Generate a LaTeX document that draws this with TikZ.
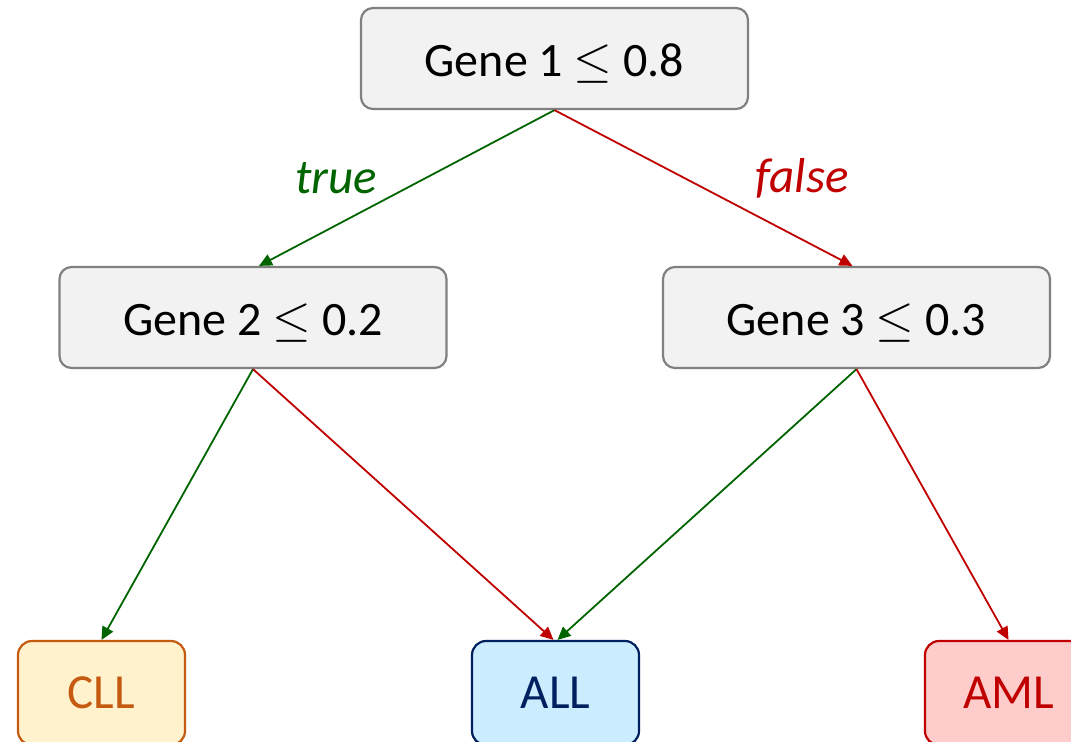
\documentclass[tikz,border=0pt]{standalone}
\usepackage{fontspec}
\setmainfont{Carlito}
\usepackage{xcolor}
\usetikzlibrary{arrows.meta}

\definecolor{boxgray}{RGB}{242,242,242}
\definecolor{linegray}{RGB}{128,128,128}
\definecolor{yesgreen}{RGB}{0,100,0}
\definecolor{nored}{RGB}{192,0,0}
\definecolor{cllfill}{RGB}{255,242,204}
\definecolor{clldraw}{RGB}{197,90,17}
\definecolor{allfill}{RGB}{204,236,255}
\definecolor{alldraw}{RGB}{0,32,96}
\definecolor{amlfill}{RGB}{255,204,204}

\begin{document}
\begin{tikzpicture}[x=0.5pt,y=-0.5pt,
    font=\fontsize{24.5}{29}\selectfont,
    test/.style={draw=linegray,fill=boxgray,line width=1.1pt,rounded corners=6pt,
        minimum width=193.5pt,minimum height=50.5pt,inner sep=0pt,
        font=\fontsize{24}{29}\selectfont,text height=18pt,text depth=0pt},
    leaf/.style={line width=1.1pt,rounded corners=7pt,
        minimum width=83.5pt,minimum height=52pt,inner sep=0pt},
    yes/.style={draw=yesgreen,line width=0.9pt,-{Triangle[length=6.5pt,width=6pt]}},
    no/.style={draw=nored,line width=0.9pt,-{Triangle[length=6.5pt,width=6pt]}}]
        \useasboundingbox (0,0) rectangle (1071,741);
        \clip (0,0) rectangle (1071,741);
        \node[test] (g1) at (554.5,58.5) {Gene 1 $\leq$ 0.8};
        \node[test] (g2) at (253,317.5) {Gene 2 $\leq$ 0.2};
        \node[test] (g3) at (856.5,317.5) {Gene 3 $\leq$ 0.3};
        \node[leaf,draw=clldraw,fill=cllfill,text=clldraw] (cll) at (101.5,693) {CLL};
        \node[leaf,draw=alldraw,fill=allfill,text=alldraw] (all) at (555.5,693) {ALL};
        \node[leaf,draw=nored,fill=amlfill,text=nored] (aml) at (1008.5,693) {AML};
        \draw[yes] (g1.south) -- ([xshift=3pt]g2.north);
        \draw[no] (g1.south) -- ([xshift=-2pt]g3.north);
        \draw[yes] (g2.south) -- (cll.north);
        \draw[no] (g2.south) -- ([xshift=-1pt]all.north);
        \draw[yes] (g3.south) -- ([xshift=1pt]all.north);
        \draw[no] (g3.south) -- (aml.north);
        \node[text=yesgreen,font=\fontsize{24.5}{29}\selectfont\itshape] (t) at (336,178) {true};
        \node[text=nored,font=\fontsize{24.5}{29}\selectfont\itshape] (f) at (802,178) {false};
    \end{tikzpicture}
\end{document}
